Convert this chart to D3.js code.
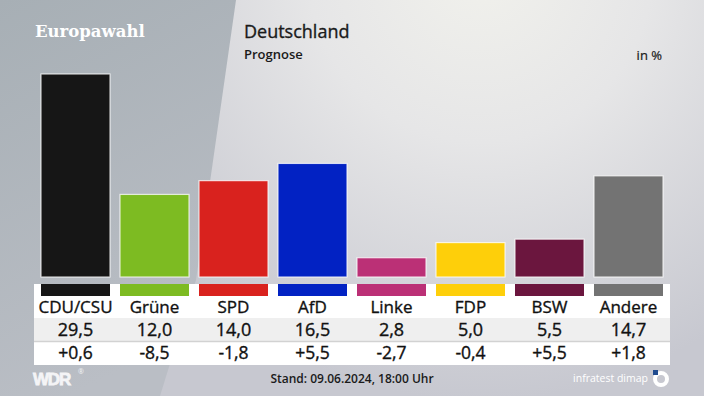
<!DOCTYPE html>
<meta charset="utf-8">
<style>
    body { margin: 0; }
    svg { display: block; }
    text { font-family: "Open Sans", "Noto Sans", sans-serif; }
    .med { stroke: #111; stroke-width: 0.35px; }
</style>
<body>
<svg width="704" height="396"></svg>
<script src="https://d3js.org/d3.v7.min.js"></script>
<script>
    // Europawahl 2024, Prognose Deutschland
    var parties = ["CDU/CSU", "Grüne", "SPD", "AfD", "Linke", "FDP", "BSW", "Andere"];
    var shares = [29.5, 12.0, 14.0, 16.5, 2.8, 5.0, 5.5, 14.7];
    var changes = [0.6, -8.5, -1.8, 5.5, -2.7, -0.4, 5.5, 1.8];
    var colors = ["#161616", "#7dbb22", "#d9221e", "#0222c3", "#bb3076", "#fecf0a", "#6b163e", "#737373"];

    var svg = d3.select("svg");
    var W = 704, H = 396;

    var fmt = function (v) { return v.toFixed(1).replace(".", ","); };
    var fmtDiff = function (v) { return (v > 0 ? "+" : "") + fmt(v); };

    // background
    var defs = svg.append("defs");
    var rg = defs.append("radialGradient").attr("id", "bgR")
        .attr("gradientUnits", "userSpaceOnUse")
        .attr("cx", 480).attr("cy", -30).attr("r", 430);
    rg.append("stop").attr("offset", "0").attr("stop-color", "#f1f1ec");
    rg.append("stop").attr("offset", "0.4").attr("stop-color", "#e6e6e7");
    rg.append("stop").attr("offset", "1").attr("stop-color", "#c7c8d0");
    var lg = defs.append("linearGradient").attr("id", "bgL")
        .attr("x1", 0).attr("y1", 0).attr("x2", 0.3).attr("y2", 1);
    lg.append("stop").attr("offset", "0").attr("stop-color", "#a7afb5");
    lg.append("stop").attr("offset", "1").attr("stop-color", "#babec5");

    svg.append("rect").attr("width", W).attr("height", H).attr("fill", "url(#bgR)");
    svg.append("path")
        .attr("d", "M0,0 L236,0 L196,280 L160,396 L0,396 Z")
        .attr("fill", "url(#bgL)");

    // headings
    svg.append("text").attr("x", 35).attr("y", 37)
        .style("font-family", "'DejaVu Serif', 'Liberation Serif', serif")
        .style("font-weight", "bold").style("font-size", "16.5px")
        .attr("fill", "#ffffff").text("Europawahl");
    svg.append("text").attr("x", 244).attr("y", 38)
        .attr("class", "med").style("stroke", "#1a1a1a")
        .style("font-size", "18px")
        .attr("fill", "#1a1a1a").text("Deutschland");
    svg.append("text").attr("x", 244).attr("y", 59)
        .style("font-size", "13px").style("font-weight", 600)
        .attr("fill", "#1a1a1a").text("Prognose");
    svg.append("text").attr("x", 662).attr("y", 60)
        .attr("text-anchor", "end").attr("class", "med").style("stroke-width", "0.2px")
        .style("font-size", "13px")
        .attr("fill", "#1a1a1a").text("in %");

    // scales
    var x = d3.scaleBand().domain(parties).range([36, 668])
        .paddingInner(10 / 79).paddingOuter(5 / 79);
    var y = d3.scaleLinear().domain([0, 29.5]).range([277, 74]);

    var data = parties.map(function (p, i) {
        return { party: p, share: shares[i], change: changes[i], color: colors[i] };
    });

    // bars
    svg.append("g").selectAll("rect")
        .data(data)
        .enter().append("rect")
        .attr("x", function (d) { return x(d.party); })
        .attr("y", function (d) { return y(d.share); })
        .attr("width", x.bandwidth())
        .attr("height", function (d) { return y(0) - y(d.share); })
        .attr("fill", function (d) { return d.color; })
        .attr("stroke", "rgba(255,255,255,0.75)")
        .attr("stroke-width", 1.2);

    // table
    var tLeft = 34, tRight = 670, tTop = 284;
    svg.append("rect").attr("x", tLeft).attr("y", tTop)
        .attr("width", tRight - tLeft).attr("height", 81).attr("fill", "#ffffff");
    svg.append("rect").attr("x", tLeft).attr("y", 318)
        .attr("width", tRight - tLeft).attr("height", 23).attr("fill", "#efefef");
    svg.append("line").attr("x1", tLeft).attr("x2", tRight)
        .attr("y1", 341.5).attr("y2", 341.5)
        .attr("stroke", "#d2d2d2").attr("stroke-width", 1.5);

    var cols = svg.append("g").selectAll("g")
        .data(data)
        .enter().append("g");

    cols.append("rect")
        .attr("x", function (d) { return x(d.party); })
        .attr("y", tTop)
        .attr("width", x.bandwidth())
        .attr("height", 12)
        .attr("fill", function (d) { return d.color; });

    var cx = function (d) { return x(d.party) + x.bandwidth() / 2; };

    cols.append("text")
        .attr("x", cx).attr("y", 313)
        .attr("text-anchor", "middle").attr("class", "med")
        .style("font-size", "17px").attr("fill", "#111")
        .text(function (d) { return d.party; });
    cols.append("text")
        .attr("x", cx).attr("y", 336)
        .attr("text-anchor", "middle").attr("class", "med")
        .style("font-size", "18px").attr("fill", "#111")
        .text(function (d) { return fmt(d.share); });
    cols.append("text")
        .attr("x", cx).attr("y", 358.5)
        .attr("text-anchor", "middle").attr("class", "med")
        .style("font-size", "17.5px").attr("fill", "#111")
        .text(function (d) { return fmtDiff(d.change); });

    // footer
    svg.append("text").attr("x", 33).attr("y", 385)
        .style("font-family", "'Liberation Sans', Arial, sans-serif")
        .style("font-weight", "bold").style("font-size", "17px")
        .style("letter-spacing", "-1.2px")
        .attr("stroke", "#f4f4f6").attr("stroke-width", 0.8)
        .attr("fill", "#f4f4f6").text("WDR");
    svg.append("text").attr("x", 78).attr("y", 374)
        .style("font-size", "7px").attr("fill", "#f4f4f6").text("®");
    svg.append("text").attr("x", 352).attr("y", 383)
        .attr("text-anchor", "middle")
        .style("font-size", "12px").style("font-weight", 600)
        .attr("fill", "#1a1a1a").text("Stand: 09.06.2024, 18:00 Uhr");
    svg.append("text").attr("x", 648).attr("y", 382)
        .attr("text-anchor", "end")
        .style("font-size", "10.5px")
        .attr("fill", "#ffffff").text("infratest dimap");
    svg.append("circle").attr("cx", 661).attr("cy", 379).attr("r", 6)
        .attr("fill", "none").attr("stroke", "#ffffff").attr("stroke-width", 4);
    svg.append("rect").attr("x", 653).attr("y", 370).attr("width", 5).attr("height", 5)
        .attr("fill", "#1f4b8f");
</script>
</body>
